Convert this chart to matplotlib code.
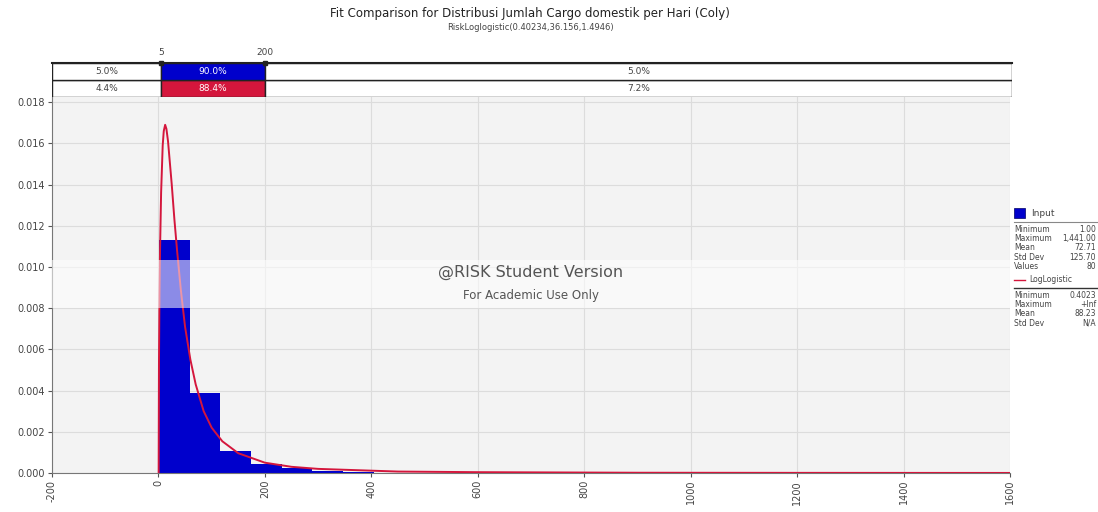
"""Fit comparison: input histogram vs fitted LogLogistic density."""

import matplotlib.pyplot as plt
from matplotlib.patches import Rectangle

plt.rcParams["font.family"] = ["DejaVu Sans"]

# histogram of the input data (density per bin)
bin_start = 1.0
bin_width = 57.6
bin_density = [0.0113, 0.0039, 0.00105, 0.00045, 0.00022, 0.00012, 0.00006,
               0.00002, 0.00002, 0.0, 0.00002, 0.0, 0.0, 0.0, 0.0, 0.0,
               0.0, 0.0, 0.0, 0.0, 0.0, 0.0, 0.0, 0.0, 0.00001]

# fitted LogLogistic density
fit_x = [0.4, 1, 2, 3, 5, 8, 10, 12.6, 15, 18, 25, 30, 35, 42, 50, 60, 70,
         85, 100, 120, 150, 200, 250, 300, 450, 600, 900, 1200, 1600]
fit_y = [0.0, 0.0054, 0.0087, 0.0108, 0.0136, 0.0159, 0.0166, 0.0169,
         0.0167, 0.0161, 0.0140, 0.0123, 0.0108, 0.0089, 0.0071, 0.0055,
         0.0043, 0.0030, 0.0022, 0.00154, 0.00096, 0.0005, 0.0003, 0.0002,
         0.00007, 0.00004, 0.000013, 0.000007, 0.000003]

# delimiter band
delims = [5, 200]
delim_labels = ["5", "200"]
input_pcts = ["5.0%", "90.0%", "5.0%"]
fit_pcts = ["4.4%", "88.4%", "7.2%"]

x_ticks = [-200, 0, 200, 400, 600, 800, 1000, 1200, 1400, 1600]
y_ticks = [0.000, 0.002, 0.004, 0.006, 0.008, 0.010, 0.012, 0.014, 0.016, 0.018]

input_stats = [("Minimum", "1.00"), ("Maximum", "1,441.00"), ("Mean", "72.71"),
               ("Std Dev", "125.70"), ("Values", "80")]
fit_stats = [("Minimum", "0.4023"), ("Maximum", "+Inf"), ("Mean", "88.23"),
             ("Std Dev", "N/A")]

BLUE = "#0000cc"
RED = "#d4163c"
TXT = "#444444"
W, H = 1098, 512

fig = plt.figure(figsize=(W / 100, H / 100), dpi=100)


def fx(px):
    return px / W


def fy(py):
    return 1 - py / H


ax = fig.add_axes([fx(52), fy(473), fx(1010 - 52), (473 - 97) / H])
ax.set_facecolor("#f3f3f3")
xmin, xmax = -200, 1600
ax.set_xlim(xmin, xmax)
ax.set_ylim(0, 0.01825)

lefts = [bin_start + i * bin_width for i in range(len(bin_density))]
ax.bar(lefts, bin_density, width=bin_width, align="edge", color=BLUE,
       linewidth=0, zorder=2)
ax.plot(fit_x, fit_y, color=RED, lw=1.4, zorder=3)

ax.set_xticks(x_ticks)
ax.set_xticklabels([str(v) for v in x_ticks], rotation=90, fontsize=7, color=TXT)
ax.set_yticks(y_ticks)
ax.set_yticklabels([f"{v:.3f}" for v in y_ticks], fontsize=7, color=TXT)
ax.tick_params(length=3, color="#555555", pad=2)
ax.grid(True, color="#dcdcdc", lw=0.8, zorder=0)
ax.set_axisbelow(True)
for s in ["top", "right"]:
    ax.spines[s].set_visible(False)
for s in ["left", "bottom"]:
    ax.spines[s].set_color("#777777")

# watermark band
ax.add_patch(Rectangle((0, (473 - 308) / 376), 1, 48 / 376, transform=ax.transAxes,
                       facecolor="white", alpha=0.55, lw=0, zorder=4))
ax.text(0.5, (473 - 272) / 376, "@RISK Student Version", transform=ax.transAxes,
        ha="center", va="center", fontsize=11.5, color="#555555", zorder=5)
ax.text(0.5, (473 - 296) / 376, "For Academic Use Only", transform=ax.transAxes,
        ha="center", va="center", fontsize=8.5, color="#555555", zorder=5)

# delimiter band above the plot
bx = fig.add_axes([fx(52), fy(97), fx(1012 - 52), 34 / H])
bx.set_xlim(xmin, xmin + (xmax - xmin) * (1012 - 52) / (1010 - 52))
bx.set_ylim(0, 2)
bx.axis("off")
edges = [bx.get_xlim()[0]] + delims + [bx.get_xlim()[1]]
for row, (pcts, col) in enumerate([(fit_pcts, RED), (input_pcts, BLUE)]):
    for i, p in enumerate(pcts):
        mid = i == 1
        bx.add_patch(Rectangle((edges[i], row), edges[i + 1] - edges[i], 1,
                               facecolor=col if mid else "white",
                               edgecolor="#222222", lw=1.0))
        bx.text((edges[i] + edges[i + 1]) / 2, row + 0.5, p, ha="center",
                va="center", fontsize=6.5, color="white" if mid else TXT)
bx.plot([edges[0], edges[-1]], [2, 2], color="#222222", lw=1.5, clip_on=False)
for d, lab in zip(delims, delim_labels):
    bx.plot([d], [2.02], marker="s", ms=3.5, color="#222222", clip_on=False)
    bx.text(d, 2.35, lab, ha="center", va="bottom", fontsize=6.5, color=TXT)

# titles
fig.text(fx(530), fy(13), "Fit Comparison for Distribusi Jumlah Cargo domestik per Hari (Coly)",
         ha="center", va="center", fontsize=8.5, color="#222222")
fig.text(fx(530), fy(28), "RiskLoglogistic(0.40234,36.156,1.4946)",
         ha="center", va="center", fontsize=6, color="#444444")

# legend panel on the right
lx = fx(1014)
vx = fx(1096)
fig.patches.append(Rectangle((lx, fy(218)), fx(11), 10 / H, transform=fig.transFigure,
                             facecolor=BLUE, edgecolor="#000066", lw=0.5))
fig.text(fx(1031), fy(213), "Input", fontsize=6.5, va="center", color=TXT)
fig.lines.append(plt.Line2D([lx, 1.0], [fy(222)] * 2, transform=fig.transFigure,
                            color="#888888", lw=0.8))
for i, (k, v) in enumerate(input_stats):
    y = fy(229 + i * 9.4)
    fig.text(lx, y, k, fontsize=5.5, va="center", color=TXT)
    fig.text(vx, y, v, fontsize=5.5, va="center", ha="right", color=TXT)
fig.lines.append(plt.Line2D([lx, fx(1025)], [fy(280)] * 2, transform=fig.transFigure,
                            color=RED, lw=1.0))
fig.text(fx(1029), fy(280), "LogLogistic", fontsize=5.5, va="center", color=TXT)
fig.lines.append(plt.Line2D([lx, 1.0], [fy(288)] * 2, transform=fig.transFigure,
                            color="#333333", lw=1.0))
for i, (k, v) in enumerate(fit_stats):
    y = fy(295 + i * 9.4)
    fig.text(lx, y, k, fontsize=5.5, va="center", color=TXT)
    fig.text(vx, y, v, fontsize=5.5, va="center", ha="right", color=TXT)

fig.savefig("out.png", dpi=100)
